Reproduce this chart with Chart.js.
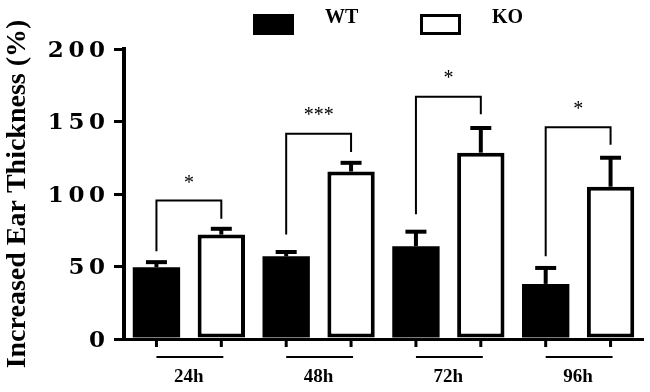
<!DOCTYPE html>
<html>
<head>
<meta charset="utf-8">
<script src="https://cdn.jsdelivr.net/npm/chart.js@4/dist/chart.umd.min.js"></script>
<style>
  html, body { margin: 0; padding: 0; background: #fff; }
  #wrap { width: 650px; height: 392px; position: relative; }
</style>
</head>
<body>
<div id="wrap"><canvas id="chart"></canvas></div>
<script>
// ── data ─────────────────────────────────────────
const categories = ['24h', '48h', '72h', '96h'];
const wtValues = [49.5, 57, 64, 38];
const wtErrors = [3.5, 3, 10, 11];
const koValues = [72, 115.5, 128.5, 105];
const koErrors = [4, 6, 17, 20];
const yTicks = [0, 50, 100, 150, 200];

// significance brackets (in axis units)
const bracketTop = [95.5, 141.5, 167, 146];
const bracketLeftEnd = [60.5, 72, 86, 57];
const bracketRightEnd = [83, 129, 155, 134];
const starLevel = [110, 157, 182, 161];
const starText = ['*', '***', '*', '*'];

const SERIF = '"Liberation Serif", "Times New Roman", serif';

// error bars, brackets, custom x ticks, legend
const extras = {
  id: 'extras',
  afterDatasetsDraw(chart) {
    const ctx = chart.ctx;
    const y = chart.scales.y;
    const area = chart.chartArea;
    const wtMeta = chart.getDatasetMeta(0);
    const koMeta = chart.getDatasetMeta(1);
    ctx.save();
    ctx.strokeStyle = '#000';
    ctx.lineCap = 'butt';

    // error bars (upper only)
    [[wtMeta, wtValues, wtErrors], [koMeta, koValues, koErrors]].forEach(([meta, vals, errs]) => {
      meta.data.forEach((bar, i) => {
        const top = y.getPixelForValue(vals[i]);
        const cap = y.getPixelForValue(vals[i] + errs[i]);
        ctx.lineWidth = 4;
        ctx.beginPath();
        ctx.moveTo(bar.x, top);
        ctx.lineTo(bar.x, cap);
        ctx.stroke();
        ctx.beginPath();
        ctx.moveTo(bar.x - 10.5, cap);
        ctx.lineTo(bar.x + 10.5, cap);
        ctx.stroke();
      });
    });

    // brackets + stars
    ctx.lineWidth = 2;
    ctx.font = '20px ' + SERIF;
    ctx.fillStyle = '#000';
    ctx.textAlign = 'center';
    ctx.textBaseline = 'middle';
    categories.forEach((c, i) => {
      const x1 = wtMeta.data[i].x, x2 = koMeta.data[i].x;
      const yt = y.getPixelForValue(bracketTop[i]);
      ctx.beginPath();
      ctx.moveTo(x1, y.getPixelForValue(bracketLeftEnd[i]));
      ctx.lineTo(x1, yt);
      ctx.lineTo(x2, yt);
      ctx.lineTo(x2, y.getPixelForValue(bracketRightEnd[i]));
      ctx.stroke();
      ctx.fillText(starText[i], (x1 + x2) / 2, y.getPixelForValue(starLevel[i]) + 4);
    });

    // tick marks under each bar and underline per group
    categories.forEach((c, i) => {
      const x1 = wtMeta.data[i].x, x2 = koMeta.data[i].x;
      ctx.lineWidth = 3;
      [x1, x2].forEach(x => {
        ctx.beginPath();
        ctx.moveTo(x, area.bottom);
        ctx.lineTo(x, area.bottom + 8);
        ctx.stroke();
      });
      ctx.lineWidth = 2;
      ctx.beginPath();
      ctx.moveTo(x1, area.bottom + 18);
      ctx.lineTo(x2 + 2, area.bottom + 18);
      ctx.stroke();
    });

    // legend
    ctx.fillRect(253, 14, 41, 21);
    ctx.lineWidth = 3;
    ctx.strokeRect(421.5, 15.5, 38, 18);
    ctx.font = 'bold 20px ' + SERIF;
    ctx.textAlign = 'left';
    ctx.textBaseline = 'alphabetic';
    ctx.fillText('WT', 325, 23);
    ctx.fillText('KO', 492, 23);
    ctx.restore();
  }
};

new Chart(document.getElementById('chart'), {
  type: 'bar',
  data: {
    labels: categories,
    datasets: [
      { label: 'WT', data: wtValues, backgroundColor: '#000', borderWidth: 0,
        barPercentage: 0.73, categoryPercentage: 1.0 },
      { label: 'KO', data: koValues, backgroundColor: '#fff', borderColor: '#000', borderWidth: 4,
        borderSkipped: false, barPercentage: 0.73, categoryPercentage: 1.0 }
    ]
  },
  options: {
    responsive: true, maintainAspectRatio: false, animation: false,
    layout: { padding: { left: 0, right: 7, top: 49, bottom: 0 } },
    plugins: { legend: { display: false }, tooltip: { enabled: false } },
    scales: {
      x: {
        grid: { display: false, drawTicks: false },
        border: { display: true, color: '#000', width: 3 },
        ticks: { color: '#000', padding: 27, font: { family: SERIF, size: 19, weight: 'bold' } },
        afterFit: s => { s.height = 53; }
      },
      y: {
        min: 0, max: 200,
        afterBuildTicks: s => { s.ticks = yTicks.map(v => ({ value: v })); },
        grid: { drawOnChartArea: false, drawTicks: true, tickLength: 10, lineWidth: 3, color: '#000' },
        border: { display: true, color: '#000', width: 4 },
        ticks: {
          color: '#000', padding: 9, labelOffset: 2,
          font: { family: '"DejaVu Serif", serif', size: 23, weight: 'bold' },
          callback: v => String(v).split('').join('\u2009')
        },
        title: {
          display: true, text: 'Increased Ear Thickness (%)', color: '#000',
          padding: { top: 1, bottom: 0 },
          font: { family: SERIF, size: 28, weight: 'bold' }
        },
        afterFit: s => { s.width = 124; }
      }
    }
  },
  plugins: [extras]
});
</script>
</body>
</html>
